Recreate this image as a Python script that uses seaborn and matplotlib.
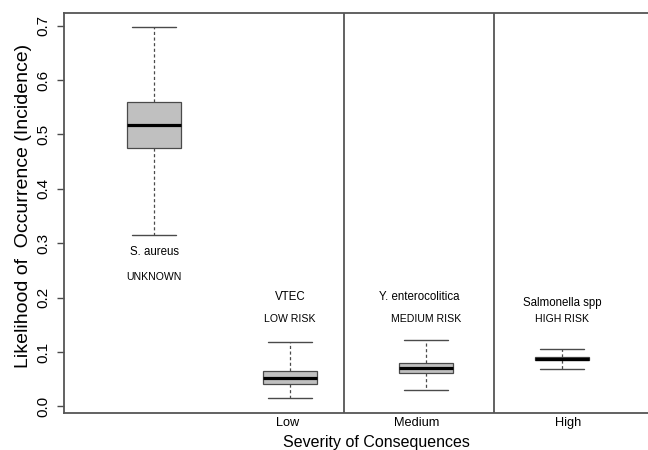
import matplotlib
matplotlib.use("Agg")
import matplotlib.pyplot as plt
import seaborn as sns
import pandas as pd

# ---- data (five-number summaries) ----
organisms = ["S. aureus", "VTEC", "Y. enterocolitica", "Salmonella spp"]
risk_labels = ["UNKNOWN", "LOW RISK", "MEDIUM RISK", "HIGH RISK"]
whisker_low = [0.315, 0.015, 0.031, 0.069]
quartile1 = [0.475, 0.042, 0.062, 0.086]
median = [0.517, 0.053, 0.071, 0.088]
quartile3 = [0.560, 0.065, 0.080, 0.091]
whisker_high = [0.697, 0.118, 0.123, 0.105]
severity_labels = ["Low", "Medium", "High"]
severity_positions = [0.985, 1.934, 3.044]
divider_positions = [1.40, 2.50]

rows = []
for i, org in enumerate(organisms):
    for v in (whisker_low[i], quartile1[i], median[i], quartile3[i], whisker_high[i]):
        rows.append({"organism": org, "value": v})
df = pd.DataFrame(rows)

sns.set_style("white")
plt.rcParams["font.family"] = ["Liberation Sans", "DejaVu Sans"]
plt.rcParams["text.color"] = "black"
plt.rcParams["axes.labelcolor"] = "black"
plt.rcParams["xtick.color"] = "black"
plt.rcParams["ytick.color"] = "black"

fig = plt.figure(figsize=(6.48, 4.5), dpi=100)
ax = fig.add_axes([64 / 648, 37 / 450, 588 / 648, 400.5 / 450])

edge = "#4a4a4a"
sns.boxplot(
    data=df, x="organism", y="value", order=organisms, ax=ax,
    whis=(0, 100), width=0.4, color="#c0c0c0", linecolor=edge, linewidth=0.9,
    saturation=1, showfliers=False,
    medianprops={"color": "black", "linewidth": 2.3},
    whiskerprops={"linestyle": (0, (2.5, 2)), "color": edge, "linewidth": 0.9},
    capprops={"color": edge, "linewidth": 1.0},
    capwidths=0.32,
)

ax.set_xlim(-0.662, 3.662)
ax.set_ylim(-0.012, 0.724)

for x in divider_positions:
    ax.axvline(x, color="#555555", lw=1.3)

# annotations
name_y = [0.284, 0.201, 0.201, 0.191]
name_x = [0.0, 1.0, 1.949, 3.005]
risk_y = [0.238, 0.160, 0.160, 0.160]
risk_x = [0.0, 1.0, 2.0, 3.0]
for i in range(len(organisms)):
    ax.text(name_x[i], name_y[i], organisms[i], ha="center", va="center",
            fontsize=8.3, color="black")
    ax.text(risk_x[i], risk_y[i], risk_labels[i], ha="center", va="center",
            fontsize=7.6, color="black")

ax.set_xticks(severity_positions)
ax.set_xticklabels(severity_labels, fontsize=9.2)
ax.tick_params(axis="x", length=0, pad=3, labelcolor="black")

yt = [0.0, 0.1, 0.2, 0.3, 0.4, 0.5, 0.6, 0.7]
ax.set_yticks(yt)
ax.set_yticklabels([f"{v:.1f}" for v in yt], rotation=90, va="center", fontsize=11)
ax.tick_params(axis="y", left=True, length=5, width=1, color=edge, pad=5,
               labelcolor="black")

ax.set_xlabel("Severity of Consequences", fontsize=11.5, va="center", color="black")
ax.xaxis.set_label_coords(0.532, -0.074)
ax.set_ylabel("Likelihood of  Occurrence (Incidence)", fontsize=14, va="center",
              ha="center", color="black")
ax.yaxis.set_label_coords(-0.069, 0.517)

for side in ["left", "top", "bottom"]:
    ax.spines[side].set_color("#555555")
    ax.spines[side].set_linewidth(1.3)
    ax.spines[side].set_visible(True)
ax.spines["right"].set_visible(False)

fig.savefig("out.png", dpi=100)
